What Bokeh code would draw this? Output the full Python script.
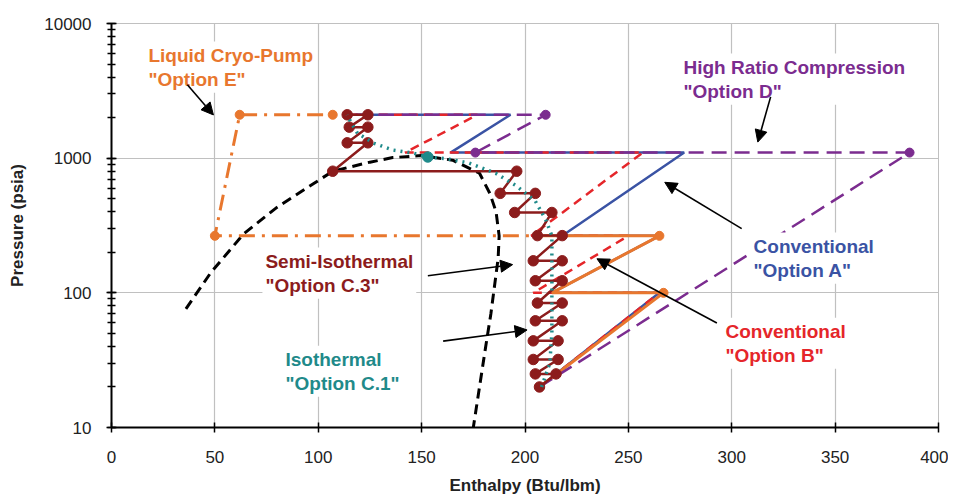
from bokeh.plotting import figure
from bokeh.models import Label, Arrow, NormalHead, FixedTicker, BasicTickFormatter
from bokeh.embed import file_html
from bokeh.resources import INLINE

# ---------------- data (enthalpy Btu/lbm, pressure psia) ----------------
dome_h = [36, 48, 64, 80, 98, 107, 125, 136, 150, 165, 178, 183, 186, 187.5, 187, 185.5, 183.5, 181, 178, 175]
dome_p = [76, 141, 275, 431, 651, 800, 934, 1010, 1045, 966, 773, 548, 400, 265, 180, 120, 70, 40, 20, 10]

# Conventional "Option A" (blue)
A_h = [207, 265, 213, 265, 218, 277, 164, 193, 114]
A_p = [20, 100, 100, 265, 265, 1100, 1100, 2100, 2100]

# Conventional "Option B" (red)
B_h = [207, 265, 204, 250, 203, 257, 142, 177, 114]
B_p = [20, 100, 100, 265, 265, 1100, 1100, 2100, 2100]

# High Ratio Compression "Option D" (purple)
D_h = [207, 386, 176, 210, 114]
D_p = [20, 1100, 1100, 2100, 2100]
D_mark_h = [386, 176, 210]
D_mark_p = [1100, 1100, 2100]

# Liquid Cryo-Pump "Option E" (orange): vapour part, then liquid part
E_gas_h = [207, 267, 213, 265, 213]
E_gas_p = [20, 100, 100, 265, 265]
E_liq_h = [213, 50, 62, 107]
E_liq_p = [265, 265, 2100, 2100]
E_mark_h = [207, 267, 265, 50, 62, 107]
E_mark_p = [20, 100, 265, 265, 2100, 2100]

# Isothermal "Option C.1" (teal)
C1_h = [208, 212, 213, 213, 213, 213, 210, 205, 196, 186, 173, 162, 153, 146, 136, 127, 119, 116, 114]
C1_p = [20, 30, 50, 100, 200, 265, 350, 480, 620, 770, 920, 990, 1020, 1090, 1150, 1290, 1530, 1820, 2100]
C1_mark_h = [153]
C1_mark_p = [1020]

# Semi-Isothermal "Option C.3" (dark red)
C3_h = [207, 215, 205, 216, 204, 216, 204, 218, 205, 218, 206, 218, 205, 218, 204, 218, 206,
        213, 195, 205, 188, 196, 107, 124, 114, 124, 115, 124, 114]
C3_p = [20, 25, 25, 32, 32, 44, 44, 62, 62, 84, 84, 123, 123, 173, 173, 266, 266,
        395, 395, 548, 548, 800, 800, 1300, 1300, 1700, 1700, 2100, 2100]

x_ticks = [0, 50, 100, 150, 200, 250, 300, 350, 400]

# ---------------- styles ----------------
ORANGE = "#E8772E"
BLUE = "#3A53A4"
RED = "#E5262A"
PURPLE = "#7B2C8F"
DARKRED = "#8C1C1C"
TEAL = "#1F8A8A"
FONT = "Liberation Sans"

p = figure(frame_width=827, frame_height=404, x_range=(0, 400), y_range=(10, 10000),
           y_axis_type="log", output_backend="svg", toolbar_location=None,
           min_border_left=111, min_border_right=10, min_border_top=23, min_border_bottom=66)
p.outline_line_color = "#C0C0C0"
p.background_fill_color = "white"

p.xaxis.ticker = FixedTicker(ticks=x_ticks)
p.yaxis.formatter = BasicTickFormatter(use_scientific=False)
for ax in (p.xaxis[0], p.yaxis[0]):
    ax.axis_line_color = "black"
    ax.axis_line_width = 2
    ax.major_tick_line_color = "black"
    ax.major_tick_line_width = 1.5
    ax.major_tick_in = 5
    ax.major_tick_out = 5
    ax.major_label_text_font = FONT
    ax.major_label_text_font_size = "17px"
    ax.major_label_text_color = "#222222"
    ax.axis_label_text_font = FONT
    ax.axis_label_text_font_size = "17px"
    ax.axis_label_text_font_style = "bold"
    ax.axis_label_text_color = "#222222"
p.xaxis.minor_tick_line_color = None
p.yaxis.minor_tick_line_color = "black"
p.yaxis.minor_tick_line_width = 1.5
p.yaxis.minor_tick_in = 4
p.yaxis.minor_tick_out = 4
p.xaxis.major_label_standoff = 18
p.yaxis.major_label_standoff = 15
p.xaxis.axis_label = "Enthalpy (Btu/lbm)"
p.yaxis.axis_label = "Pressure (psia)"
p.xaxis.axis_label_standoff = 10
p.yaxis.axis_label_standoff = 14

p.xgrid.grid_line_color = "#C0C0C0"
p.ygrid.grid_line_color = "#C0C0C0"
p.xgrid.grid_line_width = 1.2
p.ygrid.grid_line_width = 1.2

# ---------------- glyphs ----------------
p.line(dome_h, dome_p, line_color="black", line_width=3, line_dash="10 6")
p.line(A_h, A_p, line_color=BLUE, line_width=2.5)
p.line(B_h, B_p, line_color=RED, line_width=2.5, line_dash="9 6")
p.line(E_gas_h, E_gas_p, line_color=ORANGE, line_width=3)
p.line(E_liq_h, E_liq_p, line_color=ORANGE, line_width=3, line_dash="16 7 3 7")
p.scatter(E_mark_h, E_mark_p, size=9, color=ORANGE)
p.line(D_h, D_p, line_color=PURPLE, line_width=2.5, line_dash="15 8")
p.scatter(D_mark_h, D_mark_p, size=9, color=PURPLE)
p.line(C3_h, C3_p, line_color=DARKRED, line_width=2.5)
p.scatter(C3_h, C3_p, size=10.5, color=DARKRED)
p.line(C1_h, C1_p, line_color=TEAL, line_width=3.5, line_dash="2 5")
p.scatter(C1_mark_h, C1_mark_p, size=10.5, color=TEAL)

# ---------------- annotations ----------------
labels = [
    ("Liquid Cryo-Pump\n\"Option E\"", ORANGE, 16.4, 7350),
    ("High Ratio Compression\n\"Option D\"", PURPLE, 275.2, 5985),
    ("Conventional\n\"Option A\"", BLUE, 309.1, 280),
    ("Conventional\n\"Option B\"", RED, 295.5, 65.4),
    ("Semi-Isothermal\n\"Option C.3\"", DARKRED, 73.0, 217),
    ("Isothermal\n\"Option C.1\"", TEAL, 82.7, 40.5),
]
for txt, col, lx, ly in labels:
    p.add_layout(Label(x=lx, y=ly, text=txt, text_color=col, text_font=FONT,
                       text_font_size="19px", text_font_style="bold",
                       text_baseline="top", text_align="left", text_line_height=1.15,
                       background_fill_color="white", padding=3))

arrows = [
    (36.7, 3505, 49.3, 2094),
    (318.8, 2852, 312.6, 1316),
    (304.8, 300, 267.6, 662),
    (292.8, 59.7, 234.8, 179),
    (153.0, 134, 194.0, 162),
    (160.4, 43.8, 201.0, 53),
]
for xs, ys, xe, ye in arrows:
    p.add_layout(Arrow(end=NormalHead(size=12, fill_color="black", line_color="black"),
                       x_start=xs, y_start=ys, x_end=xe, y_end=ye,
                       line_color="black", line_width=1.6))

open("out.html", "w").write(file_html(p, INLINE))
